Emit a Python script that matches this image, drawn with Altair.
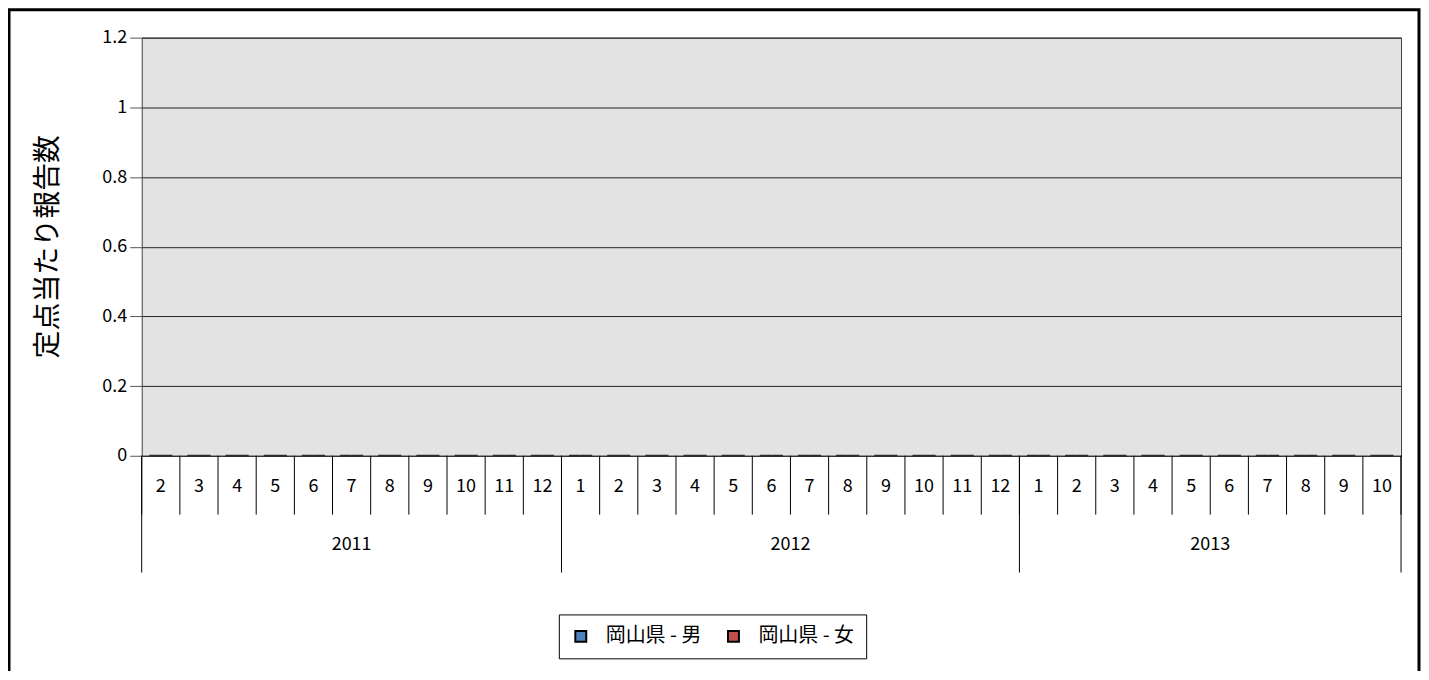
import altair as alt
import pandas as pd

# ---- data ----
years = [2011, 2012, 2013]
months_2011 = [2, 3, 4, 5, 6, 7, 8, 9, 10, 11, 12]
months_2012 = [1, 2, 3, 4, 5, 6, 7, 8, 9, 10, 11, 12]
months_2013 = [1, 2, 3, 4, 5, 6, 7, 8, 9, 10]
series = ["岡山県 - 男", "岡山県 - 女"]
male_values = [0, 0, 0, 0, 0, 0, 0, 0, 0, 0, 0,
               0, 0, 0, 0, 0, 0, 0, 0, 0, 0, 0, 0,
               0, 0, 0, 0, 0, 0, 0, 0, 0, 0]
female_values = [0, 0, 0, 0, 0, 0, 0, 0, 0, 0, 0,
                 0, 0, 0, 0, 0, 0, 0, 0, 0, 0, 0, 0,
                 0, 0, 0, 0, 0, 0, 0, 0, 0, 0]
y_ticks = [0, 0.2, 0.4, 0.6, 0.8, 1, 1.2]
colors = ["#4F81BD", "#C0504D"]
y_title = "定点当たり報告数"

# ---- tables built from the arrays ----
month_lists = [months_2011, months_2012, months_2013]
keys = []
rows_month = []
rows_year = []
idx = 0
for y, ms in zip(years, month_lists):
    start = idx
    for m in ms:
        keys.append(f"{y}-{m}")
        rows_month.append({"key": f"{y}-{m}", "pos": idx})
        idx += 1
    rows_year.append({"year": str(y), "start": start, "end": idx})
N = idx

bar_rows = []
for k, mv, fv in zip(keys, male_values, female_values):
    bar_rows.append({"key": k, "series": series[0], "value": mv})
    bar_rows.append({"key": k, "series": series[1], "value": fv})
df_bars = pd.DataFrame(bar_rows)
df_month = pd.DataFrame(rows_month + [{"key": "end", "pos": N}])
df_year = pd.DataFrame(rows_year)
df_year["mid"] = (df_year["start"] + df_year["end"]) / 2
df_ybound = pd.DataFrame({"pos": sorted(set(df_year["start"]).union(df_year["end"]))})

W, H = 1262, 419
FONT = "Noto Sans CJK JP"

border = alt.Chart(pd.DataFrame({"a": [0]})).mark_rect(
    fill=None, stroke="black", strokeWidth=3
).encode(
    x=alt.value(-133), x2=alt.value(1280), y=alt.value(-28), y2=alt.value(720)
)

bars = alt.Chart(df_bars).mark_bar(stroke="#2a2a2a", strokeWidth=2).encode(
    x=alt.X("key:N", sort=keys,
            scale=alt.Scale(paddingInner=0, paddingOuter=0),
            axis=alt.Axis(title=None, labelExpr="split(datum.value, '-')[1]",
                          ticks=False, domain=False, labelAngle=0,
                          labelPadding=31, labelBaseline="middle",
                          labelFontSize=18, labelColor="black", labelFont=FONT)),
    xOffset=alt.XOffset("series:N", sort=series, scale=alt.Scale(paddingOuter=0.65)),
    y=alt.Y("value:Q", scale=alt.Scale(domain=[0, 1.2], nice=False),
            axis=alt.Axis(values=y_ticks, format="~g", title=y_title,
                          titleFontSize=28, titleFontWeight="normal", titleFont=FONT,
                          titleX=-93, titleY=209, titleAngle=270,
                          titleAlign="center", titleBaseline="middle",
                          titleColor="black",
                          labelFontSize=18, labelFont=FONT, labelColor="black",
                          labelPadding=3, tickSize=12, tickColor="#555555",
                          gridColor="#222222", gridWidth=1, domain=False)),
    color=alt.Color("series:N", sort=series,
                    scale=alt.Scale(domain=series, range=colors),
                    legend=alt.Legend(title=None, orient="none", legendX=418, legendY=578,
                                      direction="horizontal", strokeColor="black",
                                      fillColor="white", padding=12,
                                      symbolType="square", symbolSize=120,
                                      symbolStrokeColor="black", symbolStrokeWidth=2,
                                      labelFontSize=20, labelFont=FONT, labelColor="black",
                                      labelOffset=15, columnPadding=22)),
)

xq = alt.Scale(domain=[0, N], nice=False, zero=False)

month_rules = alt.Chart(df_month).mark_rule(color="black", strokeWidth=1).encode(
    x=alt.X("pos:Q", scale=xq, axis=None),
    y=alt.value(H), y2=alt.value(H + 59),
)
year_rules = alt.Chart(df_ybound).mark_rule(color="black", strokeWidth=1).encode(
    x=alt.X("pos:Q", scale=xq, axis=None),
    y=alt.value(H), y2=alt.value(H + 117),
)
year_text = alt.Chart(df_year).mark_text(
    fontSize=18, font=FONT, color="black", baseline="middle", align="center"
).encode(
    x=alt.X("mid:Q", scale=xq, axis=None),
    y=alt.value(H + 89),
    text="year:N",
)

seps = alt.layer(month_rules, year_rules, year_text)

chart = alt.layer(border, bars, seps).resolve_scale(x="independent").properties(
    width=W, height=H,
    padding={"left": 134, "top": 29, "right": 20, "bottom": 215},
    autosize=alt.AutoSizeParams(type="none"),
).configure(font=FONT).configure_view(
    fill="#E3E3E3", stroke="#404040", strokeWidth=1
)

chart.save("out.html", embed_options={"renderer": "svg", "actions": False})
